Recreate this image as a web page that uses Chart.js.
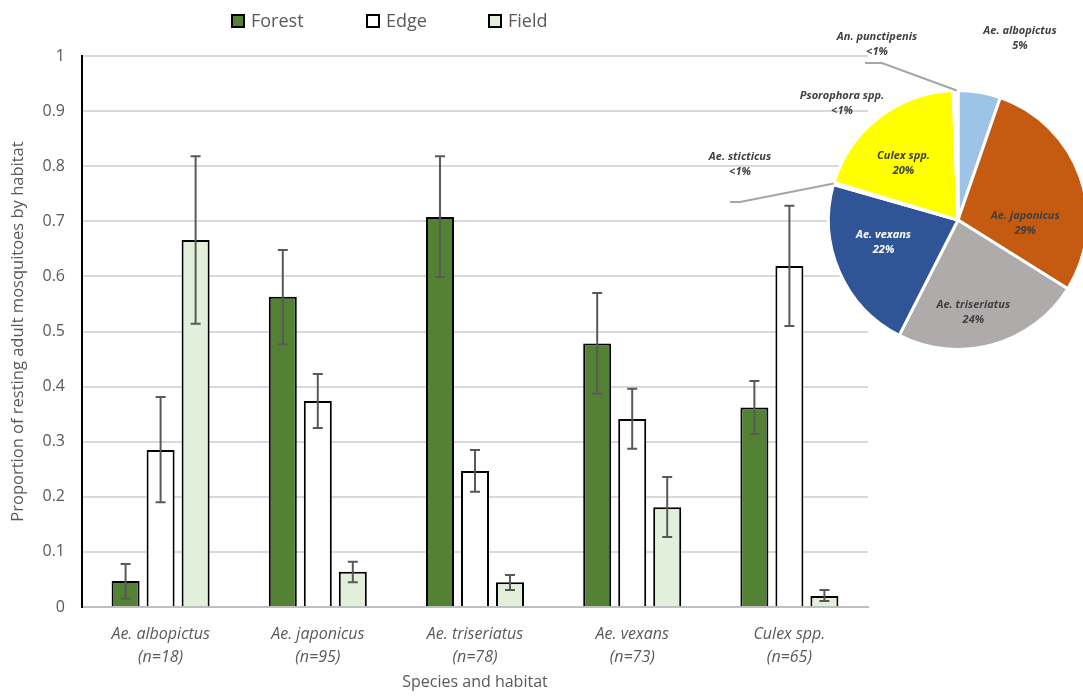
<!DOCTYPE html>
<html lang="en">
<head>
  <meta charset="UTF-8" />
  <title>Resting adult mosquitoes by habitat</title>
  <script src="https://cdn.jsdelivr.net/npm/chart.js"></script>
  <style>
    html, body { margin: 0; padding: 0; background: #fff; overflow: hidden; }
    .wrap { position: relative; width: 1083px; height: 696px; overflow: hidden; }
    #barChart { position: absolute; left: 0; top: 0; }
    #pieChart { position: absolute; left: 700px; top: 0; }
  </style>
</head>
<body>
  <div class="wrap">
    <canvas id="barChart" width="1083" height="696"></canvas>
    <canvas id="pieChart" width="390" height="360"></canvas>
  </div>

  <script>
    // bar chart data
    const species = [
      ['Ae. albopictus', '(n=18)'],
      ['Ae. japonicus', '(n=95)'],
      ['Ae. triseriatus', '(n=78)'],
      ['Ae. vexans', '(n=73)'],
      ['Culex spp.', '(n=65)']
    ];
    const habitats = ['Forest', 'Edge', 'Field'];
    const yTicks = [0, 0.1, 0.2, 0.3, 0.4, 0.5, 0.6, 0.7, 0.8, 0.9, 1];

    const forest     = [0.047, 0.563, 0.708, 0.478, 0.362];
    const forestLow  = [0.015, 0.477, 0.599, 0.387, 0.314];
    const forestHigh = [0.078, 0.648, 0.818, 0.570, 0.410];

    const edge     = [0.285, 0.374, 0.247, 0.341, 0.619];
    const edgeLow  = [0.190, 0.325, 0.209, 0.287, 0.510];
    const edgeHigh = [0.381, 0.423, 0.285, 0.396, 0.728];

    const field     = [0.666, 0.064, 0.045, 0.181, 0.020];
    const fieldLow  = [0.514, 0.045, 0.031, 0.127, 0.011];
    const fieldHigh = [0.818, 0.082, 0.058, 0.236, 0.031];

    // pie data (share of all resting adults, %)
    const pieSpecies = ['Ae. albopictus', 'Ae. japonicus', 'Ae. triseriatus', 'Ae. vexans',
                        'Ae. sticticus', 'Culex spp.', 'Psorophora spp.', 'An. punctipenis'];
    const pieShare = [5.3, 28.6, 23.6, 21.9, 0.3, 19.7, 0.3, 0.3];
    const pieShareText = ['5%', '29%', '24%', '22%', '<1%', '20%', '<1%', '<1%'];

    const FONT = '"Open Sans", "Noto Sans", sans-serif';
    const GREY = '#595959';

    // error bars drawn from each bar element + y scale
    const errorBars = {
      id: 'errorBars',
      afterDatasetsDraw(chart, args, opts) {
        const ctx = chart.ctx;
        const y = chart.scales.y;
        chart.data.datasets.forEach((ds, i) => {
          const meta = chart.getDatasetMeta(i);
          meta.data.forEach((bar, j) => {
            const top = y.getPixelForValue(ds.errHigh[j]);
            const bot = y.getPixelForValue(ds.errLow[j]);
            const c = opts.cap / 2;
            ctx.save();
            ctx.strokeStyle = opts.color;
            ctx.lineWidth = opts.width;
            ctx.beginPath();
            ctx.moveTo(bar.x, top); ctx.lineTo(bar.x, bot);
            ctx.moveTo(bar.x - c, top); ctx.lineTo(bar.x + c, top);
            ctx.moveTo(bar.x - c, bot); ctx.lineTo(bar.x + c, bot);
            ctx.stroke();
            ctx.restore();
          });
        });
      }
    };

    // legend at the top with outlined boxes
    const boxLegend = {
      id: 'boxLegend',
      afterDraw(chart, args, opts) {
        const ctx = chart.ctx;
        ctx.save();
        ctx.font = opts.font;
        ctx.textBaseline = 'middle';
        chart.data.datasets.forEach((ds, i) => {
          const x = opts.x[i];
          ctx.fillStyle = ds.backgroundColor;
          ctx.fillRect(x, opts.y - 6, 12, 12);
          ctx.strokeStyle = '#000';
          ctx.lineWidth = 2;
          ctx.strokeRect(x, opts.y - 6, 12, 12);
          ctx.fillStyle = GREY;
          ctx.fillText(ds.label, x + 19, opts.y + 1);
        });
        ctx.restore();
      }
    };

    const barSets = [
      { label: habitats[0], data: forest, errLow: forestLow, errHigh: forestHigh, backgroundColor: '#548235' },
      { label: habitats[1], data: edge,   errLow: edgeLow,   errHigh: edgeHigh,   backgroundColor: '#ffffff' },
      { label: habitats[2], data: field,  errLow: fieldLow,  errHigh: fieldHigh,  backgroundColor: '#e2efda' }
    ].map(d => Object.assign(d, {
      borderColor: '#000',
      borderWidth: 2,
      barPercentage: 0.8,
      categoryPercentage: 0.668
    }));

    new Chart(document.getElementById('barChart'), {
      type: 'bar',
      data: { labels: species, datasets: barSets },
      plugins: [errorBars, boxLegend],
      options: {
        responsive: false,
        devicePixelRatio: 1,
        animation: false,
        layout: { padding: { top: 56, right: 215, left: 0, bottom: 0 } },
        plugins: {
          legend: { display: false },
          tooltip: { enabled: false },
          errorBars: { color: '#595959', width: 2, cap: 10 },
          boxLegend: { x: [232, 367, 489], y: 21, font: '18px ' + FONT }
        },
        scales: {
          x: {
            grid: { display: false },
            border: { color: '#bfbfbf', width: 2 },
            ticks: {
              color: GREY, padding: 8, maxRotation: 0, autoSkip: false,
              font: { family: FONT, size: 16, style: 'italic', lineHeight: 1.45 }
            },
            title: {
              display: true, text: 'Species and habitat', color: GREY,
              font: { family: FONT, size: 16 }, padding: { top: 4, bottom: 4 }
            },
            afterFit(s) { s.height = 89; }
          },
          y: {
            min: 0, max: 1,
            afterBuildTicks(s) { s.ticks = yTicks.map(v => ({ value: v })); },
            ticks: {
              color: GREY, padding: 17,
              font: { family: FONT, size: 16 },
              callback: v => String(+v.toFixed(1))
            },
            grid: { color: '#d9d9d9', lineWidth: 2, drawTicks: false },
            border: { color: '#000', width: 2 },
            title: {
              display: true, text: 'Proportion of resting adult mosquitoes by habitat', color: GREY,
              font: { family: FONT, size: 16.5 }, padding: { top: 8, bottom: 4 }
            },
            afterFit(s) { s.width = 82; }
          }
        }
      }
    });

    // pie labels: inside ones follow the slice, outside ones sit off the pie with leaders
    const pieLabels = {
      id: 'pieLabels',
      afterDatasetsDraw(chart, args, opts) {
        const ctx = chart.ctx;
        const meta = chart.getDatasetMeta(0);
        ctx.save();
        ctx.font = opts.font;
        ctx.textAlign = 'center';
        ctx.textBaseline = 'middle';
        meta.data.forEach((arc, i) => {
          const p = opts.places[i];
          const mid = (arc.startAngle + arc.endAngle) / 2;
          let x, y;
          if (p.inside) {
            const a = mid + p.turn * Math.PI / 180;
            const r = arc.outerRadius * p.r;
            x = arc.x + Math.cos(a) * r;
            y = arc.y + Math.sin(a) * r;
          } else {
            x = p.x; y = p.y;
            if (p.leader) {
              ctx.strokeStyle = '#a6a6a6';
              ctx.lineWidth = 2;
              ctx.beginPath();
              ctx.moveTo(arc.x + Math.cos(mid) * arc.outerRadius, arc.y + Math.sin(mid) * arc.outerRadius);
              p.leader.forEach(pt => ctx.lineTo(pt[0], pt[1]));
              ctx.stroke();
            }
          }
          ctx.fillStyle = p.color || '#404040';
          ctx.fillText(chart.data.labels[i], x, y - 7);
          ctx.fillText(pieShareText[i], x, y + 8);
        });
        ctx.restore();
      }
    };

    new Chart(document.getElementById('pieChart'), {
      type: 'pie',
      data: {
        labels: pieSpecies,
        datasets: [{
          data: pieShare,
          backgroundColor: ['#9dc3e6', '#c55a11', '#afabab', '#2f5597', '#f2f2f2', '#ffff00', '#f2f2f2', '#f2f2f2'],
          borderColor: '#ffffff',
          borderWidth: 3
        }]
      },
      plugins: [pieLabels],
      options: {
        responsive: false,
        devicePixelRatio: 1,
        animation: false,
        layout: { padding: { left: 127, top: 89, right: 1, bottom: 9 } },
        plugins: {
          legend: { display: false },
          tooltip: { enabled: false },
          pieLabels: {
            font: 'italic bold 11px ' + FONT,
            places: [
              { x: 320, y: 38 },
              { inside: true, turn: 22, r: 0.52 },
              { inside: true, turn: 6, r: 0.72 },
              { inside: true, turn: 7, r: 0.6, color: '#ffffff' },
              { x: 40, y: 164, leader: [[40, 202], [30, 202]] },
              { inside: true, turn: -6, r: 0.61 },
              { x: 142, y: 103 },
              { x: 177, y: 44, leader: [[182, 63], [165, 63]] }
            ]
          }
        }
      }
    });
  </script>
</body>
</html>
